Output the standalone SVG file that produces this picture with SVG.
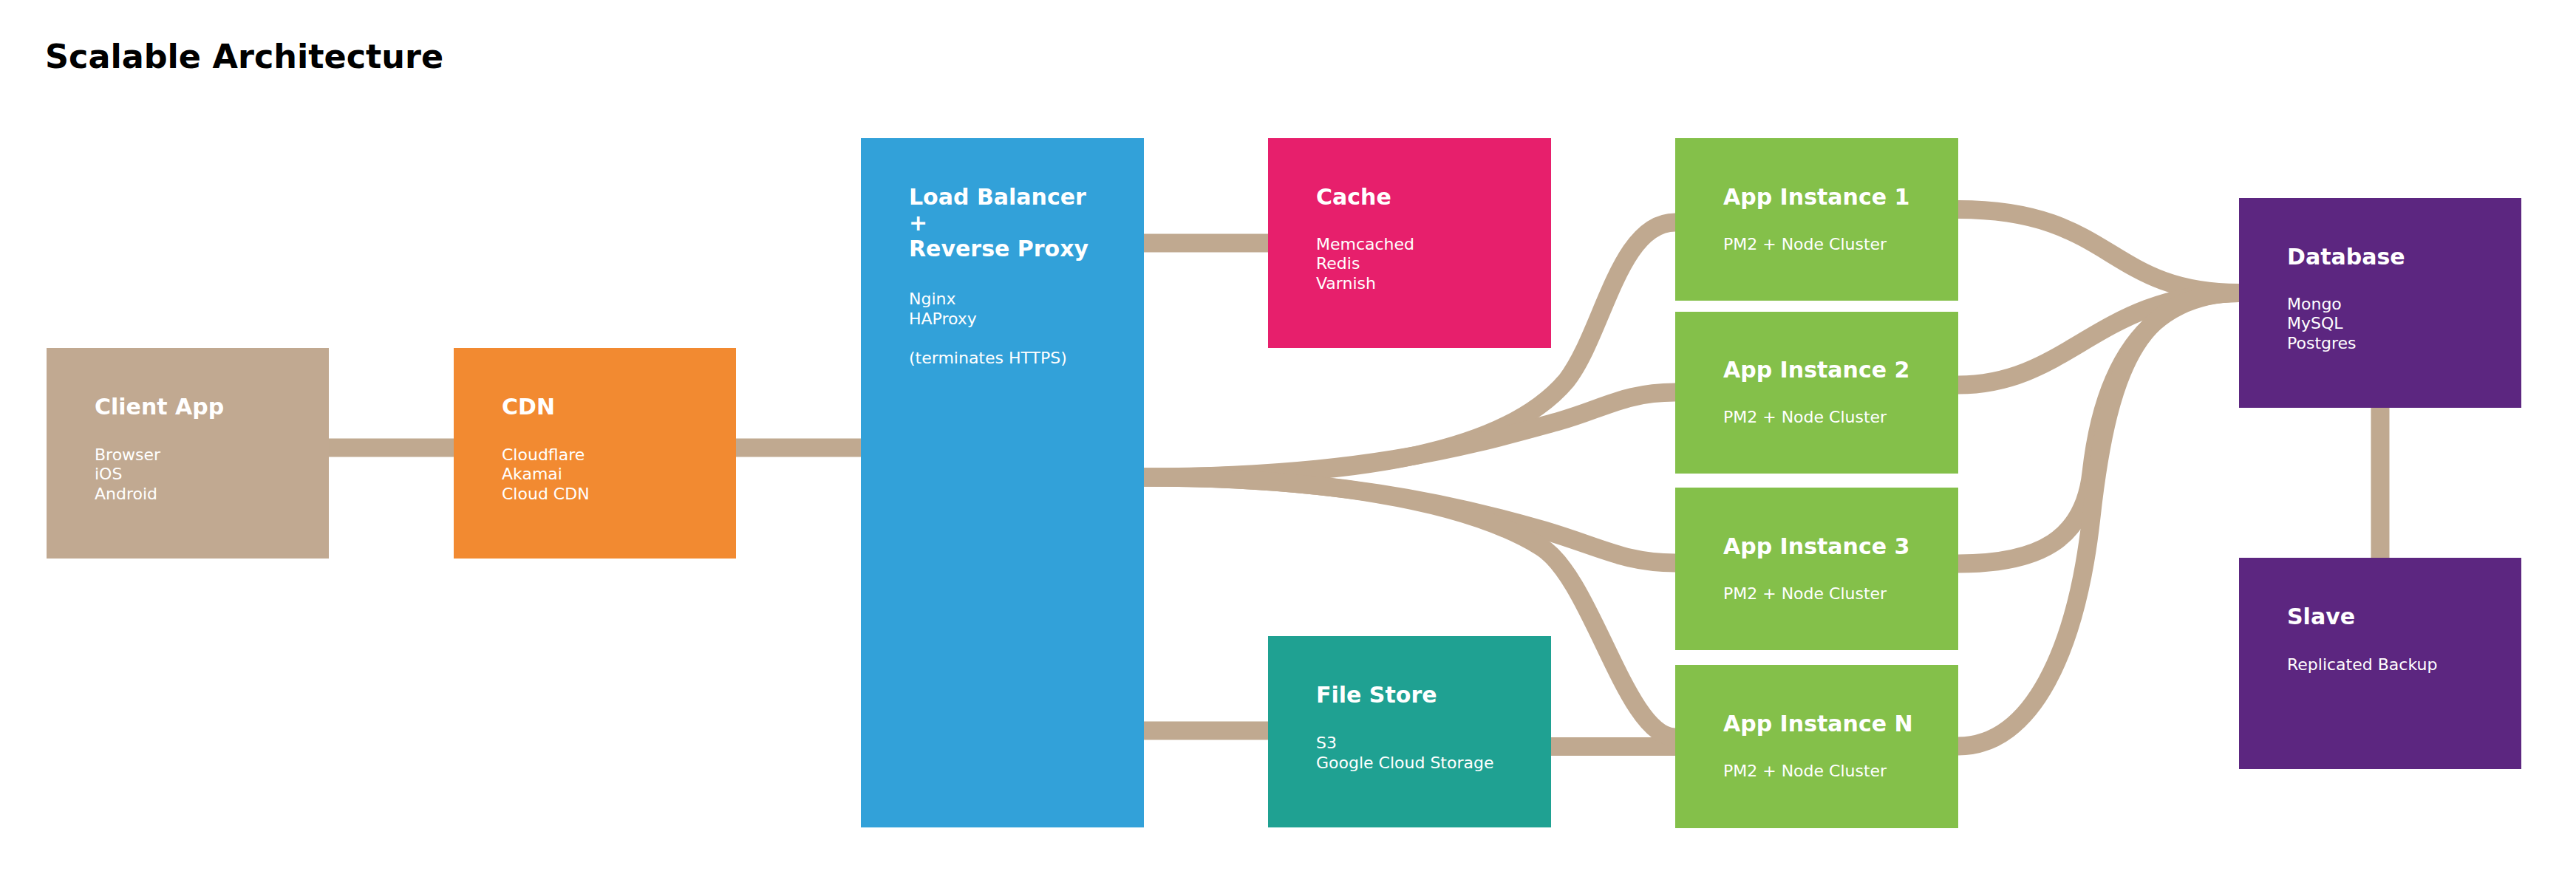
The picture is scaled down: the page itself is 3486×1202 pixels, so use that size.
<svg xmlns="http://www.w3.org/2000/svg" width="3486" height="1202" viewBox="0 0 3486 1202">
<style>
text{font-family:"DejaVu Sans","Liberation Sans",sans-serif;fill:#ffffff}
.t{font-size:30px;font-weight:bold}
.s{font-size:22px}
.h{font-size:44.5px;font-weight:bold;fill:#000000}
.c{fill:none;stroke:#C0A990;stroke-width:25;stroke-linecap:butt}
.client{fill:#C1A991}.cdn{fill:#F28A31}.lb{fill:#32A1D9}.cache{fill:#E71F6C}.fs{fill:#1FA192}.app{fill:#84C04A}.db{fill:#5C2680}
</style>
<rect width="3486" height="1202" fill="#ffffff"/>
<text class="h" x="61" y="92">Scalable Architecture</text>
<g id="connectors">
<path class="c" d="M445,606H614"/>
<path class="c" d="M996,606H1165"/>
<path class="c" d="M1548,329H1716"/>
<path class="c" d="M1548,989H1716"/>
<path class="c" d="M1999,1010.5H2267"/>
<path class="c" d="M3221,552V755"/>
<path class="c" d="M1548,646C1850,646 2040,610 2120,515C2170,450 2190,301 2267,301"/>
<path class="c" d="M1548,646C1850,646 2000,600 2110,570C2170,553 2200,531 2267,531"/>
<path class="c" d="M1548,646C1800,646 1960,680 2090,718C2170,742 2200,762 2267,762"/>
<path class="c" d="M1548,646C1780,646 1980,675 2085,740C2155,783 2200,998 2267,998"/>
<path class="c" d="M2650,283.5C2860,283.5 2850,396.5 3030,396.5"/>
<path class="c" d="M2650,521C2800,521 2840,396.5 3030,396.5"/>
<path class="c" d="M2650,763C2760,763 2820,730 2830,640C2845,505 2900,396.5 3030,396.5"/>
<path class="c" d="M2650,1010C2750,1010 2810,880 2830,700C2854,484 2900,396.5 3030,396.5"/>
</g>
<g id="client">
<rect class="client" x="63" y="471" width="382" height="285"/>
<text class="t" x="128" y="561">Client App</text>
<text class="s" x="128" y="622.5">Browser</text>
<text class="s" x="128" y="649">iOS</text>
<text class="s" x="128" y="675.5">Android</text>
</g>
<g id="cdn">
<rect class="cdn" x="614" y="471" width="382" height="285"/>
<text class="t" x="679" y="561">CDN</text>
<text class="s" x="679" y="622.5">Cloudflare</text>
<text class="s" x="679" y="649">Akamai</text>
<text class="s" x="679" y="675.5">Cloud CDN</text>
</g>
<g id="lb">
<rect class="lb" x="1165" y="187" width="383" height="933"/>
<text class="t" x="1230" y="277">Load Balancer</text>
<text class="t" x="1230" y="312">+</text>
<text class="t" x="1230" y="347">Reverse Proxy</text>
<text class="s" x="1230" y="412.3">Nginx</text>
<text class="s" x="1230" y="438.7">HAProxy</text>
<text class="s" x="1230" y="491.7">(terminates HTTPS)</text>
</g>
<g id="cache">
<rect class="cache" x="1716" y="187" width="383" height="284"/>
<text class="t" x="1781" y="277">Cache</text>
<text class="s" x="1781" y="337.7">Memcached</text>
<text class="s" x="1781" y="364.2">Redis</text>
<text class="s" x="1781" y="390.7">Varnish</text>
</g>
<g id="filestore">
<rect class="fs" x="1716" y="861" width="383" height="259"/>
<text class="t" x="1781" y="951">File Store</text>
<text class="s" x="1781" y="1013">S3</text>
<text class="s" x="1781" y="1039.5">Google Cloud Storage</text>
</g>
<g id="app1">
<rect class="app" x="2267" y="187" width="383" height="220"/>
<text class="t" x="2332" y="277">App Instance 1</text>
<text class="s" x="2332" y="337.5">PM2 + Node Cluster</text>
</g>
<g id="app2">
<rect class="app" x="2267" y="422" width="383" height="219"/>
<text class="t" x="2332" y="511">App Instance 2</text>
<text class="s" x="2332" y="572">PM2 + Node Cluster</text>
</g>
<g id="app3">
<rect class="app" x="2267" y="660" width="383" height="220"/>
<text class="t" x="2332" y="750">App Instance 3</text>
<text class="s" x="2332" y="811">PM2 + Node Cluster</text>
</g>
<g id="appN">
<rect class="app" x="2267" y="900" width="383" height="221"/>
<text class="t" x="2332" y="990">App Instance N</text>
<text class="s" x="2332" y="1051">PM2 + Node Cluster</text>
</g>
<g id="database">
<rect class="db" x="3030" y="268" width="382" height="284"/>
<text class="t" x="3095" y="358">Database</text>
<text class="s" x="3095" y="418.5">Mongo</text>
<text class="s" x="3095" y="445">MySQL</text>
<text class="s" x="3095" y="471.5">Postgres</text>
</g>
<g id="slave">
<rect class="db" x="3030" y="755" width="382" height="286"/>
<text class="t" x="3095" y="845">Slave</text>
<text class="s" x="3095" y="906.5">Replicated Backup</text>
</g>
</svg>
